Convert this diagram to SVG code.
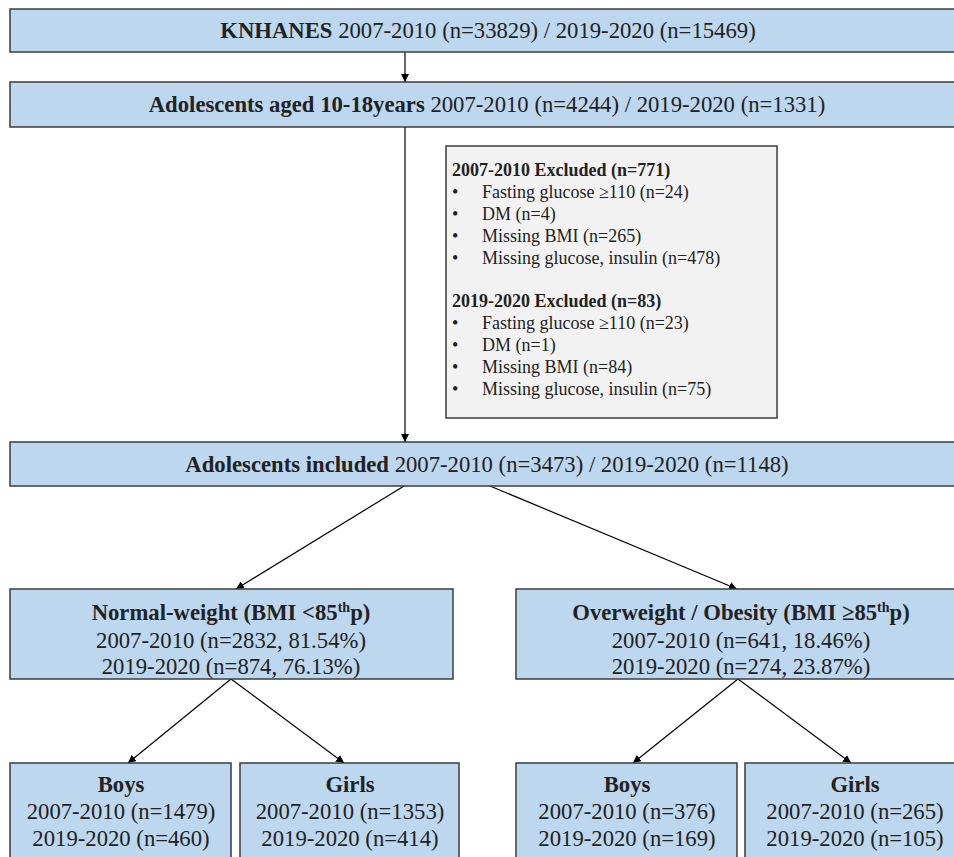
<svg xmlns="http://www.w3.org/2000/svg" width="954" height="857" viewBox="0 0 954 857">
<defs>
<marker id="ah" viewBox="0 0 10 10" refX="10" refY="5" markerWidth="8" markerHeight="8" markerUnits="userSpaceOnUse" orient="auto">
<path d="M0,0 L10,5 L0,10 Z" fill="#000"/>
</marker>
<style>
.box{fill:#bdd7ee;stroke:#3c3c3c;stroke-width:1.5}
.exc{fill:#f2f2f2;stroke:#3c3c3c;stroke-width:1.5}
.t{font-family:"Liberation Serif","Times New Roman",serif;font-size:22.7px;fill:#222;text-anchor:middle}
.e{font-family:"Liberation Serif","Times New Roman",serif;font-size:18px;fill:#222}
.b{font-weight:bold}
.sup{font-size:14px}
.conn line{stroke:#000;stroke-width:1.2;marker-end:url(#ah)}
</style>
</defs>
<rect width="954" height="857" fill="#fff"/>
<g class="conn" id="connectors">
<line x1="405" y1="52" x2="405" y2="82"/>
<line x1="405" y1="127" x2="405" y2="442"/>
<line x1="404" y1="486" x2="236" y2="589"/>
<line x1="490" y1="486" x2="737" y2="589"/>
<line x1="231" y1="679" x2="128" y2="763"/>
<line x1="231" y1="679" x2="344" y2="763"/>
<line x1="738" y1="679" x2="633" y2="763"/>
<line x1="738" y1="679" x2="851" y2="763"/>
</g>
<g id="knhanes">
<rect class="box" x="10" y="9" width="960" height="43"/>
<text class="t" x="488" y="38"><tspan class="b">KNHANES</tspan> 2007-2010 (n=33829) / 2019-2020 (n=15469)</text>
</g>
<g id="adolescents">
<rect class="box" x="10" y="82" width="960" height="45"/>
<text class="t" x="487" y="112"><tspan class="b">Adolescents aged 10-18years</tspan> 2007-2010 (n=4244) / 2019-2020 (n=1331)</text>
</g>
<g id="excluded">
<rect class="exc" x="446" y="146" width="331" height="272"/>
<text class="e b" x="452" y="176">2007-2010 Excluded (n=771)</text>
<text class="e" x="452" y="198">•</text><text class="e" x="482" y="198">Fasting glucose ≥110 (n=24)</text>
<text class="e" x="452" y="220">•</text><text class="e" x="482" y="220">DM (n=4)</text>
<text class="e" x="452" y="242">•</text><text class="e" x="482" y="242">Missing BMI (n=265)</text>
<text class="e" x="452" y="264">•</text><text class="e" x="482" y="264">Missing glucose, insulin (n=478)</text>
<text class="e b" x="452" y="307">2019-2020 Excluded (n=83)</text>
<text class="e" x="452" y="329">•</text><text class="e" x="482" y="329">Fasting glucose ≥110 (n=23)</text>
<text class="e" x="452" y="351">•</text><text class="e" x="482" y="351">DM (n=1)</text>
<text class="e" x="452" y="373">•</text><text class="e" x="482" y="373">Missing BMI (n=84)</text>
<text class="e" x="452" y="395">•</text><text class="e" x="482" y="395">Missing glucose, insulin (n=75)</text>
</g>
<g id="included">
<rect class="box" x="10" y="442" width="960" height="44"/>
<text class="t" x="487" y="472"><tspan class="b">Adolescents included</tspan> 2007-2010 (n=3473) / 2019-2020 (n=1148)</text>
</g>
<g id="normal">
<rect class="box" x="10" y="589" width="443" height="90"/>
<text class="t b" x="231" y="620">Normal-weight (BMI &lt;85<tspan class="sup" dy="-8">th</tspan><tspan dy="8">p)</tspan></text>
<text class="t" x="231" y="648">2007-2010 (n=2832, 81.54%)</text>
<text class="t" x="231" y="674">2019-2020 (n=874, 76.13%)</text>
</g>
<g id="overweight">
<rect class="box" x="516" y="589" width="450" height="90"/>
<text class="t b" x="741" y="620">Overweight / Obesity (BMI ≥85<tspan class="sup" dy="-8">th</tspan><tspan dy="8">p)</tspan></text>
<text class="t" x="741" y="648">2007-2010 (n=641, 18.46%)</text>
<text class="t" x="741" y="674">2019-2020 (n=274, 23.87%)</text>
</g>
<g id="nw-boys">
<rect class="box" x="10" y="763" width="221" height="110"/>
<text class="t b" x="121" y="792">Boys</text>
<text class="t" x="121" y="819">2007-2010 (n=1479)</text>
<text class="t" x="121" y="846">2019-2020 (n=460)</text>
</g>
<g id="nw-girls">
<rect class="box" x="240" y="763" width="219" height="110"/>
<text class="t b" x="350" y="792">Girls</text>
<text class="t" x="350" y="819">2007-2010 (n=1353)</text>
<text class="t" x="350" y="846">2019-2020 (n=414)</text>
</g>
<g id="ow-boys">
<rect class="box" x="516" y="763" width="221" height="110"/>
<text class="t b" x="627" y="792">Boys</text>
<text class="t" x="627" y="819">2007-2010 (n=376)</text>
<text class="t" x="627" y="846">2019-2020 (n=169)</text>
</g>
<g id="ow-girls">
<rect class="box" x="745" y="763" width="221" height="110"/>
<text class="t b" x="855" y="792">Girls</text>
<text class="t" x="855" y="819">2007-2010 (n=265)</text>
<text class="t" x="855" y="846">2019-2020 (n=105)</text>
</g>
</svg>
